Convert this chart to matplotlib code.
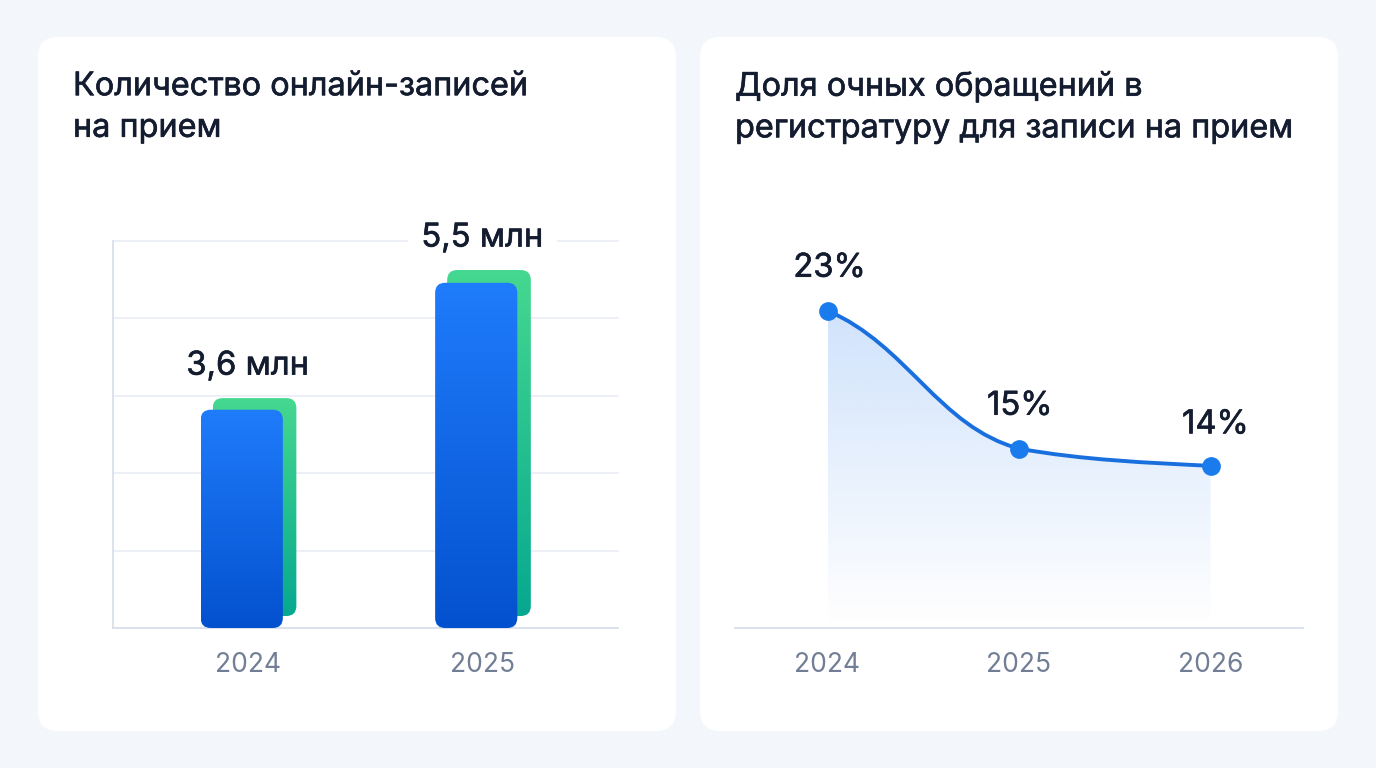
import numpy as np
import matplotlib
matplotlib.use('Agg')
import matplotlib.pyplot as plt
import matplotlib.patheffects as pe
from matplotlib.colors import LinearSegmentedColormap, to_rgb
from matplotlib.patches import FancyBboxPatch, PathPatch
from matplotlib.path import Path

plt.rcParams['font.family'] = ['Inter', 'Noto Sans', 'DejaVu Sans']

# left chart, heights are in gridline steps
years_left = ['2024', '2025']
bar_labels = ['3,6 млн', '5,5 млн']
blue_heights = [2.82, 4.46]
green_heights = [2.97, 4.625]
green_bottom = 0.155
grid_levels = [0, 1, 2, 3, 4, 5]

# right chart
years_right = [2024, 2025, 2026]
share_values = [23, 15, 14]
share_labels = ['23%', '15%', '14%']
# slope of the curve leaving / entering each point (pct per year), and handle length
slope_out = [-4.8, -2.0]
slope_in = [-3.0, -0.55]
handle = [0.42, 1 / 3]

titles = ['Количество онлайн-записей\nна прием',
          'Доля очных обращений в\nрегистратуру для записи на прием']

W, H = 1376, 768
INK = '#141C30'
GREY = '#717E95'
GRID = '#E7ECF4'
AXIS = '#D9DFEC'


def heavy(color, w=0.45):
    return [pe.withStroke(linewidth=w, foreground=color)]


def axes_px(fig, x0, y0, x1, y1):
    return fig.add_axes([x0 / W, 1 - y1 / H, (x1 - x0) / W, (y1 - y0) / H])


def gradient_bar(ax, x, w, y0, y1, top, bottom, aspect, radius, z):
    box = FancyBboxPatch((x, y0), w, y1 - y0, boxstyle=f'round,pad=0,rounding_size={radius}',
                         mutation_aspect=aspect, fc='none', ec='none', zorder=z)
    ax.add_patch(box)
    cmap = LinearSegmentedColormap.from_list('g', [top, bottom])
    im = ax.imshow(np.linspace(0, 1, 256).reshape(-1, 1), cmap=cmap, aspect='auto',
                   extent=(x, x + w, y0, y1), origin='upper', zorder=z)
    im.set_clip_path(box)


fig = plt.figure(figsize=(W / 100, H / 100), dpi=100, facecolor='#F3F6FB')

# page with the two cards
bg = fig.add_axes([0, 0, 1, 1])
bg.set_xlim(0, W)
bg.set_ylim(H, 0)
bg.axis('off')
for x0, x1, title in zip([38, 700], [676, 1338], titles):
    bg.add_patch(FancyBboxPatch((x0, 37), x1 - x0, 694, boxstyle='round,pad=0,rounding_size=20',
                                fc='white', ec='none'))
    bg.text(x0 + 35, 107.5, title, fontsize=23.35, color=INK, va='center', ha='left',
            linespacing=1.44, path_effects=heavy(INK))

# bars
ax = axes_px(fig, 113, 241, 618, 628)
ax.patch.set_alpha(0)
xlim = (-134.5 / 234, 1 + 135.5 / 234)
ylim = (0, 5)
for i in range(len(years_left)):
    gradient_bar(ax, i - 35 / 234, 83.5 / 234, green_bottom, green_heights[i],
                 '#45D88F', '#06A88F', 234 / 77.4, 10 / 234, 3)
    gradient_bar(ax, i - 47 / 234, 82 / 234, 0, blue_heights[i],
                 '#1F7CFB', '#0451CF', 234 / 77.4, 10 / 234, 4)
    ax.annotate(bar_labels[i], (i, green_heights[i]), xytext=(0, 23), textcoords='offset points',
                ha='center', va='center', fontsize=23.6, color=INK, zorder=6, annotation_clip=False,
                path_effects=heavy(INK),
                bbox=dict(fc='white', ec='none', pad=10) if i == 1 else None)
for g in grid_levels[1:]:
    ax.axhline(g, color=GRID, lw=1.1, zorder=1, clip_on=False)
ax.set_xlim(*xlim)
ax.set_ylim(*ylim)
ax.set_xticks(range(len(years_left)), years_left)
ax.set_yticks([])
ax.tick_params(axis='x', length=0, pad=17, labelsize=19, labelcolor=GREY)
for s in ['top', 'right']:
    ax.spines[s].set_visible(False)
for s in ['left', 'bottom']:
    ax.spines[s].set_color(AXIS)
    ax.spines[s].set_linewidth(1.3)

# curve
ax2 = axes_px(fig, 735, 241, 1303, 628)
ax2.patch.set_alpha(0)
xlim2 = (2024 - 92.5 / 191.5, 2026 + 92.5 / 191.5)
ylim2 = (4.6, 4.6 + 387 / 17.25)

verts = [(years_right[0], share_values[0])]
codes = [Path.MOVETO]
for i in range(len(years_right) - 1):
    x0, x1 = years_right[i], years_right[i + 1]
    y0, y1 = share_values[i], share_values[i + 1]
    a = handle[i]
    verts += [(x0 + a, y0 + slope_out[i] * a), (x1 - a, y1 - slope_in[i] * a), (x1, y1)]
    codes += [Path.CURVE4] * 3
curve = Path(verts, codes)
area = Path(verts + [(years_right[-1], ylim2[0]), (years_right[0], ylim2[0]), verts[0]],
            codes + [Path.LINETO, Path.LINETO, Path.CLOSEPOLY])

area_patch = PathPatch(area, fc='none', ec='none')
ax2.add_patch(area_patch)
rgba = np.zeros((256, 1, 4))
rgba[..., :3] = to_rgb('#2A7DF0')
rgba[..., 3] = np.linspace(0.22, 0, 256).reshape(-1, 1)
im = ax2.imshow(rgba, aspect='auto', origin='upper', zorder=1,
                extent=(years_right[0], years_right[-1], ylim2[0], share_values[0]))
im.set_clip_path(area_patch)

ax2.add_patch(PathPatch(curve, fc='none', ec='#1A6FDE', lw=2.8, zorder=3, capstyle='round'))
ax2.plot(years_right, share_values, 'o', ms=13.5, color='#1A7BEC', mec='none', zorder=4, clip_on=False)
for x, v, lab, dx, dy in zip(years_right, share_values, share_labels, [1.5, 0.5, 3.5], [30.5, 30.5, 29.5]):
    ax2.annotate(lab, (x, v), xytext=(dx, dy), textcoords='offset points',
                 ha='center', va='center', fontsize=23.6, color=INK, zorder=5,
                 path_effects=heavy(INK))
ax2.set_xlim(*xlim2)
ax2.set_ylim(*ylim2)
ax2.set_xticks(years_right, [str(y) for y in years_right])
ax2.set_yticks([])
ax2.tick_params(axis='x', length=0, pad=17, labelsize=19, labelcolor=GREY)
for s in ['top', 'right', 'left']:
    ax2.spines[s].set_visible(False)
ax2.spines['bottom'].set_color(AXIS)
ax2.spines['bottom'].set_linewidth(1.3)

fig.savefig('out.png', dpi=100, facecolor=fig.get_facecolor())
